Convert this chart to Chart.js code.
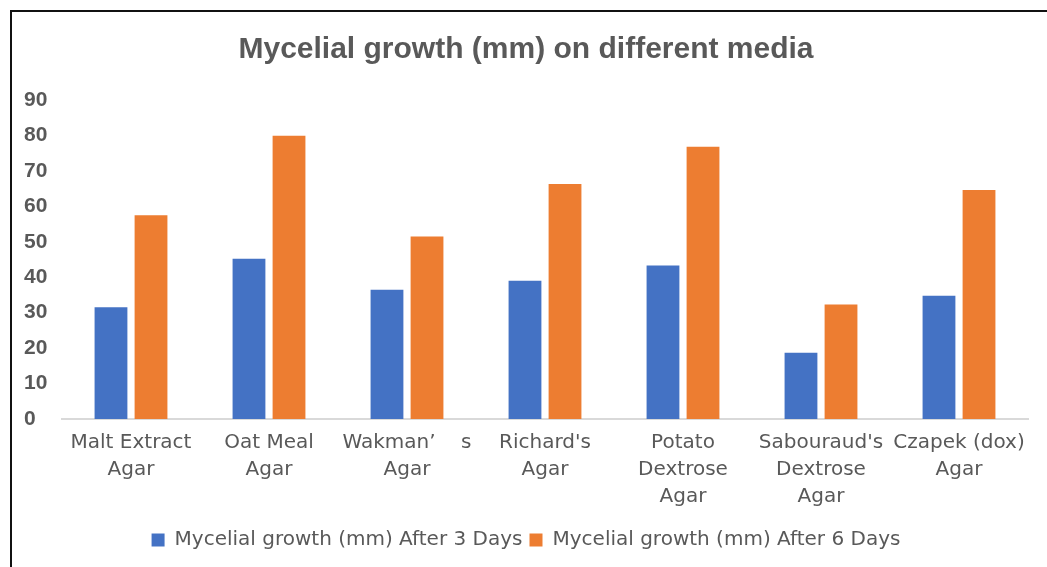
<!DOCTYPE html>
<html>
<head>
<meta charset="utf-8">
<script src="https://cdn.jsdelivr.net/npm/chart.js@4.4.1/dist/chart.umd.min.js"></script>
<style>
  html, body { margin: 0; padding: 0; background: #fff; overflow: hidden; }
  #frame {
    position: absolute; left: 10px; top: 10px; width: 1100px; height: 600px;
    border-left: 2px solid #111; border-top: 2px solid #111;
  }
  #wrap { position: absolute; left: 12px; top: 12px; width: 1030px; height: 555px; }
</style>
</head>
<body>
<div id="frame"></div>
<div id="wrap"><canvas id="mediaChart"></canvas></div>
<script>
// --- mycelial growth on different media ---

const categories = [
  ['Malt Extract', 'Agar'],
  ['Oat Meal', 'Agar'],
  ['Wakman\u2019    s', 'Agar'],
  ["Richard's", 'Agar'],
  ['Potato', 'Dextrose', 'Agar'],
  ["Sabouraud's", 'Dextrose', 'Agar'],
  ['Czapek (dox)', 'Agar']
];
const after3Days = [31.5, 45.2, 36.5, 39, 43.3, 18.7, 34.8];
const after6Days = [57.5, 79.9, 51.5, 66.3, 76.8, 32.3, 64.6];
const yTicks = [0, 10, 20, 30, 40, 50, 60, 70, 80, 90];

const textGrey = '#595959';

const ctx = document.getElementById('mediaChart').getContext('2d');
new Chart(ctx, {
  type: 'bar',
  data: {
    labels: categories,
    datasets: [
      {
        label: 'Mycelial growth (mm) After 3 Days',
        data: after3Days,
        backgroundColor: '#4472C4',
        barPercentage: 0.82,
        categoryPercentage: 0.58
      },
      {
        label: 'Mycelial growth (mm) After 6 Days',
        data: after6Days,
        backgroundColor: '#ED7D31',
        barPercentage: 0.82,
        categoryPercentage: 0.58
      }
    ]
  },
  options: {
    responsive: true,
    maintainAspectRatio: false,
    animation: false,
    layout: { padding: { left: 12, right: 14, top: 0, bottom: 7 } },
    plugins: {
      title: {
        display: true,
        text: 'Mycelial growth (mm) on different media',
        color: textGrey,
        font: { family: 'Liberation Sans', size: 30, weight: 'bold' },
        padding: { top: 20, bottom: 32 }
      },
      legend: {
        position: 'bottom',
        labels: {
          color: textGrey,
          font: { family: 'DejaVu Sans', size: 20 },
          boxWidth: 13,
          boxHeight: 13,
          padding: 7
        }
      },
      tooltip: { enabled: false }
    },
    scales: {
      x: {
        grid: { display: false },
        border: { display: true, color: '#d9d9d9', width: 2 },
        ticks: {
          color: textGrey,
          font: { family: 'DejaVu Sans', size: 20, lineHeight: 1.35 },
          maxRotation: 0,
          autoSkip: false,
          padding: 2
        },
        afterFit: (scale) => { scale.height = 104; }
      },
      y: {
        min: 0,
        max: 90,
        grid: { display: false },
        border: { display: false },
        afterBuildTicks: (scale) => { scale.ticks = yTicks.map(v => ({ value: v })); },
        ticks: {
          color: textGrey,
          font: { family: 'Liberation Sans', size: 21, weight: 'bold' },
          crossAlign: 'far',
          padding: 14
        },
        afterFit: (scale) => { scale.width = 38; }
      }
    }
  }
});
</script>
</body>
</html>
